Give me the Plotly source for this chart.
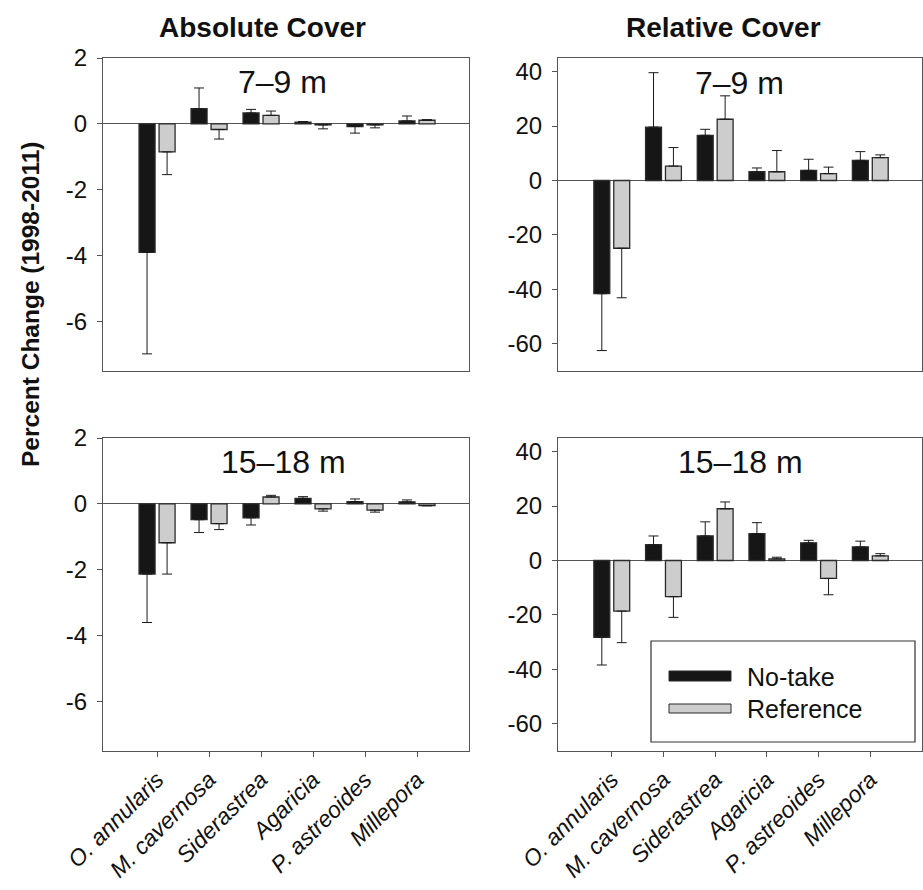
import plotly.graph_objects as go
from plotly.subplots import make_subplots

# ---------------- data ----------------
categories = ["O. annularis", "M. cavernosa", "Siderastrea", "Agaricia", "P. astreoides", "Millepora"]

abs_shallow_notake = [-3.90, 0.46, 0.33, 0.05, -0.08, 0.09]
abs_shallow_notake_err = [3.08, 0.63, 0.11, 0.02, 0.20, 0.15]
abs_shallow_ref = [-0.85, -0.17, 0.26, -0.03, -0.03, 0.11]
abs_shallow_ref_err = [0.69, 0.29, 0.13, 0.12, 0.09, 0.02]

rel_shallow_notake = [-41.6, 19.6, 16.6, 3.2, 3.7, 7.4]
rel_shallow_notake_err = [20.9, 20.0, 2.2, 1.4, 4.1, 3.2]
rel_shallow_ref = [-24.9, 5.3, 22.5, 3.2, 2.5, 8.4]
rel_shallow_ref_err = [18.2, 6.8, 8.6, 7.8, 2.4, 1.0]

abs_deep_notake = [-2.13, -0.48, -0.42, 0.17, 0.07, 0.06]
abs_deep_notake_err = [1.47, 0.39, 0.22, 0.05, 0.08, 0.06]
abs_deep_ref = [-1.18, -0.60, 0.21, -0.15, -0.19, -0.05]
abs_deep_ref_err = [0.95, 0.18, 0.05, 0.07, 0.06, 0.01]

rel_deep_notake = [-28.2, 5.8, 9.0, 9.9, 6.5, 5.0]
rel_deep_notake_err = [10.2, 3.2, 5.2, 4.0, 0.9, 2.1]
rel_deep_ref = [-18.6, -13.3, 19.0, 0.6, -6.6, 1.7]
rel_deep_ref_err = [11.6, 7.6, 2.5, 0.6, 6.0, 0.8]

abs_ticks = [-6, -4, -2, 0, 2]
abs_ticktext = ["-6", "-4", "-2", "0", "2"]
rel_ticks = [-60, -40, -20, 0, 20, 40]
rel_ticktext = ["-60", "-40", "-20", "0", "20", "40"]

series_names = ["No-take", "Reference"]
column_titles = ["Absolute Cover", "Relative Cover"]
depth_labels = ["7\u20139 m", "15\u201318 m"]
y_title = "Percent Change (1998-2011)"

# ---------------- style ----------------
W, H = 923, 890
FONT = "Liberation Sans, Arial, sans-serif"
BLACK = "#161616"
GREY = "#cdcdcd"
EDGE = "#2b2b2b"
AXIS = "#555555"

def px_x(p):
    return p / W

def px_y(p):
    return 1 - p / H

fig = make_subplots(rows=2, cols=2)

panels = [
    (1, 1, abs_shallow_notake, abs_shallow_notake_err, abs_shallow_ref, abs_shallow_ref_err),
    (1, 2, rel_shallow_notake, rel_shallow_notake_err, rel_shallow_ref, rel_shallow_ref_err),
    (2, 1, abs_deep_notake, abs_deep_notake_err, abs_deep_ref, abs_deep_ref_err),
    (2, 2, rel_deep_notake, rel_deep_notake_err, rel_deep_ref, rel_deep_ref_err),
]

def one_sided(vals, errs):
    up = [e if v >= 0 else 0 for v, e in zip(vals, errs)]
    down = [e if v < 0 else 0 for v, e in zip(vals, errs)]
    return up, down

for r, c, nt, nte, rf, rfe in panels:
    for vals, errs, color, name in [(nt, nte, BLACK, series_names[0]), (rf, rfe, GREY, series_names[1])]:
        up, down = one_sided(vals, errs)
        fig.add_trace(
            go.Bar(
                x=categories, y=vals, name=name, showlegend=False,
                marker=dict(color=color, line=dict(color=EDGE, width=1.3)),
                error_y=dict(type="data", symmetric=False, array=up, arrayminus=down,
                             color="#1a1a1a", thickness=1, width=5),
            ),
            row=r, col=c,
        )

left_dom = [px_x(103), px_x(469)]
right_dom = [px_x(558), px_x(922)]
top_dom = [px_y(371), px_y(58)]
bot_dom = [px_y(751), px_y(438)]

axis_common = dict(showline=True, linecolor=AXIS, linewidth=1.2, mirror=True,
                   showgrid=False, automargin=False)

for i, (xd, yd, is_abs, bottom) in enumerate([
    (left_dom, top_dom, True, False),
    (right_dom, top_dom, False, False),
    (left_dom, bot_dom, True, True),
    (right_dom, bot_dom, False, True),
]):
    xa = "xaxis" if i == 0 else f"xaxis{i+1}"
    ya = "yaxis" if i == 0 else f"yaxis{i+1}"
    fig.layout[xa].update(
        domain=xd, range=[-1.04, 6.0], type="category",
        categoryorder="array", categoryarray=categories,
        ticks="outside" if bottom else "", ticklen=5, tickcolor=AXIS,
        showticklabels=bottom, tickangle=-45,
        tickfont=dict(family=FONT, size=23, style="italic", color="#111"),
        **axis_common,
    )
    fig.layout[ya].update(
        domain=yd,
        range=[-7.5, 2.0] if is_abs else [-70, 45],
        tickvals=abs_ticks if is_abs else rel_ticks,
        ticktext=abs_ticktext if is_abs else rel_ticktext,
        ticks="outside", ticklen=5, tickcolor=AXIS,
        tickfont=dict(family=FONT, size=24, color="#111"),
        zeroline=True, zerolinecolor=AXIS, zerolinewidth=1.2,
        ticklabelstandoff=5,
        **axis_common,
    )

annotations = []
# column titles
for txt, cx in zip(column_titles, [262, 723]):
    annotations.append(dict(text=f"<b>{txt}</b>", x=px_x(cx), y=px_y(28), xref="paper", yref="paper",
                            showarrow=False, xanchor="center", yanchor="middle",
                            font=dict(family=FONT, size=28, color="#111")))
# depth labels
for txt, cx, cy in [(depth_labels[0], 282, 82), (depth_labels[0], 739, 83),
                    (depth_labels[1], 283, 462), (depth_labels[1], 740, 462)]:
    annotations.append(dict(text=txt, x=px_x(cx), y=px_y(cy), xref="paper", yref="paper",
                            showarrow=False, xanchor="center", yanchor="middle",
                            font=dict(family=FONT, size=32, color="#111")))
# y axis title
annotations.append(dict(text=f"<b>{y_title}</b>", x=px_x(30), y=px_y(305), xref="paper", yref="paper",
                        showarrow=False, textangle=-90, xanchor="center", yanchor="middle",
                        font=dict(family=FONT, size=24.5, color="#111")))
# legend text
for txt, cy in [(series_names[0], 677), (series_names[1], 709)]:
    annotations.append(dict(text=txt, x=px_x(745), y=px_y(cy), xref="paper", yref="paper",
                            showarrow=False, xanchor="left", yanchor="middle",
                            font=dict(family=FONT, size=25, color="#111")))

shapes = [
    dict(type="rect", xref="paper", yref="paper", x0=px_x(651), x1=px_x(915), y0=px_y(742), y1=px_y(641),
         line=dict(color="#333", width=1.2), fillcolor="white", layer="above"),
    dict(type="rect", xref="paper", yref="paper", x0=px_x(669), x1=px_x(731), y0=px_y(681), y1=px_y(671),
         line=dict(color=EDGE, width=1), fillcolor=BLACK, layer="above"),
    dict(type="rect", xref="paper", yref="paper", x0=px_x(669), x1=px_x(731), y0=px_y(713), y1=px_y(704),
         line=dict(color=EDGE, width=1), fillcolor=GREY, layer="above"),
]

fig.update_layout(
    width=W, height=H,
    margin=dict(l=0, r=0, t=0, b=0, autoexpand=False),
    paper_bgcolor="white", plot_bgcolor="white",
    barmode="group", bargap=0.23, bargroupgap=0.2,
    annotations=annotations, shapes=shapes,
    font=dict(family=FONT, color="#111"),
    showlegend=False,
)

fig.write_html("out.html")
